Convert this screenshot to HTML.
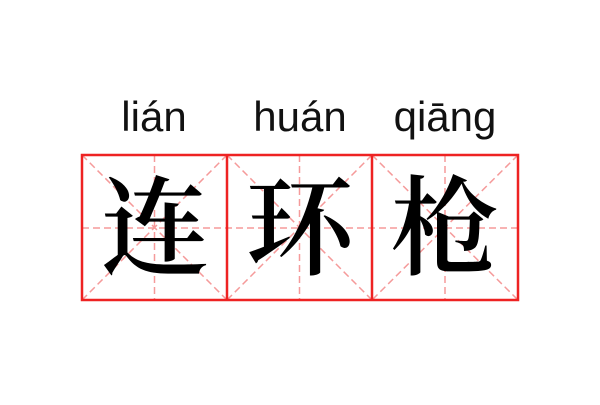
<!DOCTYPE html>
<html><head><meta charset="utf-8"><style>
html,body{margin:0;padding:0;background:#fff;}
</style></head><body>
<svg width="600" height="400" xmlns="http://www.w3.org/2000/svg">
<rect width="600" height="400" fill="#fff"/>
<g font-family="Liberation Sans, DejaVu Sans, sans-serif" font-size="42" fill="#111" text-anchor="middle">
<text x="154" y="131">lián</text>
<text x="300" y="131">huán</text>
<text x="445" y="131">qiāng</text>
</g>
<g stroke="#f59a9a" stroke-width="1.5" stroke-dasharray="7,4" fill="none">
<line x1="82" y1="228" x2="518" y2="228"/>
<line x1="154.5" y1="155" x2="154.5" y2="300"/>
<line x1="299.5" y1="155" x2="299.5" y2="300"/>
<line x1="445" y1="155" x2="445" y2="300"/>
<line x1="82" y1="155" x2="227" y2="300"/><line x1="227" y1="155" x2="82" y2="300"/>
<line x1="227" y1="155" x2="372" y2="300"/><line x1="372" y1="155" x2="227" y2="300"/>
<line x1="372" y1="155" x2="518" y2="300"/><line x1="518" y1="155" x2="372" y2="300"/>
</g>
<g stroke="#ee2222" stroke-width="2.5" fill="none">
<rect x="82" y="155" width="436" height="145"/>
<line x1="227" y1="155" x2="227" y2="300"/>
<line x1="372" y1="155" x2="372" y2="300"/>
</g>
<g font-family="Noto Serif CJK SC, serif" font-size="108" font-weight="600" fill="#000" text-anchor="middle">
<text x="155" y="266">连</text>
<text x="300" y="266">环</text>
<text x="445" y="266">枪</text>
</g>
</svg>
</body></html>
